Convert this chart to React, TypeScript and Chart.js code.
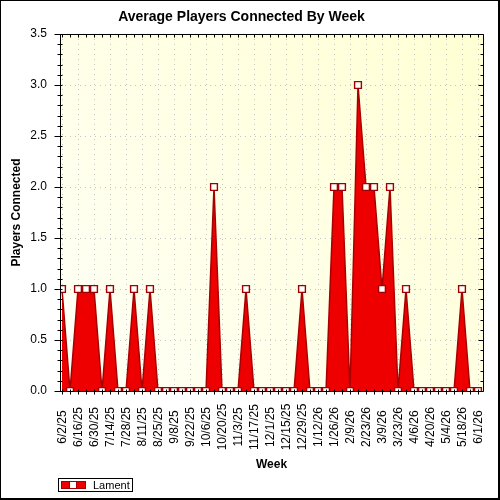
import React, { useEffect, useRef } from "react";
import { Chart, registerables } from "chart.js";

Chart.register(...registerables);

const weekLabels: string[] = [
  "6/2/25", "6/9/25", "6/16/25", "6/23/25", "6/30/25", "7/7/25", "7/14/25", "7/21/25",
  "7/28/25", "8/4/25", "8/11/25", "8/18/25", "8/25/25", "9/1/25", "9/8/25", "9/15/25",
  "9/22/25", "9/29/25", "10/6/25", "10/13/25", "10/20/25", "10/27/25", "11/3/25", "11/10/25",
  "11/17/25", "11/24/25", "12/1/25", "12/8/25", "12/15/25", "12/22/25", "12/29/25", "1/5/26",
  "1/12/26", "1/19/26", "1/26/26", "2/2/26", "2/9/26", "2/16/26", "2/23/26", "3/2/26",
  "3/9/26", "3/16/26", "3/23/26", "3/30/26", "4/6/26", "4/13/26", "4/20/26", "4/27/26",
  "5/4/26", "5/11/26", "5/18/26", "5/25/26", "6/1/26",
];

const playersConnected: number[] = [
  1, 0, 1, 1, 1, 0, 1, 0,
  0, 1, 0, 1, 0, 0, 0, 0,
  0, 0, 0, 2, 0, 0, 0, 1,
  0, 0, 0, 0, 0, 0, 1, 0,
  0, 0, 2, 2, 0, 3, 2, 2,
  1, 2, 0, 1, 0, 0, 0, 0,
  0, 0, 1, 0, 0,
];

const seriesName = "Lament";
const chartTitle = "Average Players Connected By Week";
const yAxisTitle = "Players Connected";
const xAxisTitle = "Week";
const yTickValues: number[] = [0, 0.5, 1, 1.5, 2, 2.5, 3, 3.5];

const FONT = "'Liberation Sans', Arial, sans-serif";

const decor = {
  id: "decor",
  beforeDraw(chart: any) {
    const { ctx, chartArea: a, width, height } = chart;
    ctx.save();
    ctx.fillStyle = "#ffffff";
    ctx.fillRect(0, 0, width, height);
    const g = ctx.createLinearGradient(a.left, a.bottom, a.right, a.top);
    g.addColorStop(0, "#FFFFF7");
    g.addColorStop(1, "#FFFFD4");
    ctx.fillStyle = g;
    ctx.fillRect(a.left, a.top, a.right - a.left, a.bottom - a.top);
    ctx.restore();
  },
  afterDraw(chart: any) {
    const { ctx, chartArea: a, width, height } = chart;
    const xs = chart.scales.x;
    const ys = chart.scales.y;
    ctx.save();
    ctx.strokeStyle = "#000";
    ctx.lineWidth = 1;
    // frame
    ctx.beginPath();
    ctx.rect(Math.round(a.left) + 0.5, Math.round(a.top) + 0.5, Math.round(a.right - a.left), Math.round(a.bottom - a.top));
    ctx.stroke();
    const L = Math.round(a.left) + 0.5;
    const R = Math.round(a.right) + 0.5;
    const T = Math.round(a.top) + 0.5;
    const B = Math.round(a.bottom) + 0.5;
    ctx.beginPath();
    for (let k = 0; k <= 35; k++) {
      const py = Math.round(ys.getPixelForValue(k / 10)) + 0.5;
      const major = k % 5 === 0;
      ctx.moveTo(L - (major ? 6 : 3), py);
      ctx.lineTo(L + 2, py);
      ctx.moveTo(R - (major ? 5 : 3), py);
      ctx.lineTo(R, py);
    }
    for (let i = 0; i < weekLabels.length; i++) {
      const px = Math.round(xs.getPixelForValue(i)) + 0.5;
      ctx.moveTo(px, B - 2);
      ctx.lineTo(px, B + 3);
      ctx.moveTo(px, T);
      ctx.lineTo(px, T + 3);
    }
    ctx.stroke();
    // x tick labels (centered, rotated)
    ctx.fillStyle = "#000";
    ctx.font = `12px ${FONT}`;
    ctx.textAlign = "center";
    ctx.textBaseline = "middle";
    for (let i = 0; i < weekLabels.length; i += 2) {
      const px = xs.getPixelForValue(i);
      ctx.save();
      ctx.translate(px + 0.5, a.bottom + 36);
      ctx.rotate(-Math.PI / 2);
      ctx.fillText(weekLabels[i], 0, 0);
      ctx.restore();
    }
    // legend
    ctx.strokeStyle = "#000";
    ctx.strokeRect(58.5, 478.5, 74, 13);
    ctx.fillStyle = "#EE0000";
    ctx.fillRect(61, 481, 25, 8);
    ctx.strokeStyle = "#A00000";
    ctx.strokeRect(61.5, 481.5, 24, 7);
    ctx.fillStyle = "#fff";
    ctx.fillRect(70, 482, 6, 6);
    ctx.strokeRect(69.5, 481.5, 7, 7);
    ctx.fillStyle = "#000";
    ctx.font = `11px ${FONT}`;
    ctx.textAlign = "left";
    ctx.textBaseline = "middle";
    ctx.fillText(seriesName, 93, 485.5);
    // outer border
    ctx.fillStyle = "#000";
    ctx.fillRect(0, 0, width, 1);
    ctx.fillRect(0, 0, 1, height);
    ctx.fillRect(width - 2, 0, 2, height);
    ctx.fillRect(0, height - 2, width, 2);
    ctx.restore();
  },
};

export default function App() {
  const ref = useRef<HTMLCanvasElement | null>(null);
  useEffect(() => {
    document.body.style.margin = "0";
    const canvas = ref.current!;
    const chart = new Chart(canvas, {
      type: "line",
      data: {
        datasets: [
          {
            label: seriesName,
            data: playersConnected.map((v, i) => ({ x: i, y: v })),
            borderColor: "#A80000",
            borderWidth: 1.5,
            backgroundColor: "#EE0000",
            fill: "origin",
            tension: 0,
            pointStyle: "rect",
            pointRadius: 4.8,
            pointBackgroundColor: "#ffffff",
            pointBorderColor: "#A00000",
            pointBorderWidth: 1.4,
          },
        ],
      },
      options: {
        animation: false,
        responsive: false,
        devicePixelRatio: 1,
        layout: { padding: { left: 0, right: 17, top: 0, bottom: 0 } },
        plugins: {
          legend: { display: false },
          tooltip: { enabled: false },
          title: {
            display: true,
            text: chartTitle,
            color: "#000",
            font: { family: FONT, size: 14, weight: "bold" },
            padding: { top: 8.5, bottom: 8.7 },
          },
        },
        scales: {
          x: {
            type: "linear",
            min: -0.25,
            max: 52.625,
            afterBuildTicks: (s: any) => {
              s.ticks = weekLabels.map((_, i) => ({ value: i }));
            },
            afterFit: (s: any) => {
              s.height = 109;
            },
            ticks: { display: false },
            grid: {
              drawTicks: false,
              color: (c: any) => (c.tick && c.tick.value % 2 === 0 ? "#C4C4C4" : "rgba(0,0,0,0)"),
              lineWidth: 1,
            },
            border: { display: false, dash: [1, 4] },
            title: {
              display: true,
              text: xAxisTitle,
              color: "#000",
              font: { family: FONT, size: 12, weight: "bold" },
              padding: { top: 0, bottom: 28 },
            },
          },
          y: {
            type: "linear",
            min: 0,
            max: 3.5,
            afterBuildTicks: (s: any) => {
              s.ticks = yTickValues.map((v) => ({ value: v }));
            },
            afterFit: (s: any) => {
              s.width = 60;
            },
            ticks: {
              color: "#000",
              font: { family: FONT, size: 12 },
              padding: 13,
              callback: (v: any) => Number(v).toFixed(1),
            },
            grid: { drawTicks: false, color: "#C4C4C4", lineWidth: 1 },
            border: { display: false, dash: [1, 4] },
            title: {
              display: true,
              text: yAxisTitle,
              color: "#000",
              font: { family: FONT, size: 12, weight: "bold" },
              padding: { top: 9.5, bottom: 0 },
            },
          },
        },
      },
      plugins: [decor],
    } as any);
    return () => chart.destroy();
  }, []);
  return (
    <div style={{ width: 500, height: 500 }}>
      <canvas ref={ref} width={500} height={500} style={{ display: "block" }} />
    </div>
  );
}
